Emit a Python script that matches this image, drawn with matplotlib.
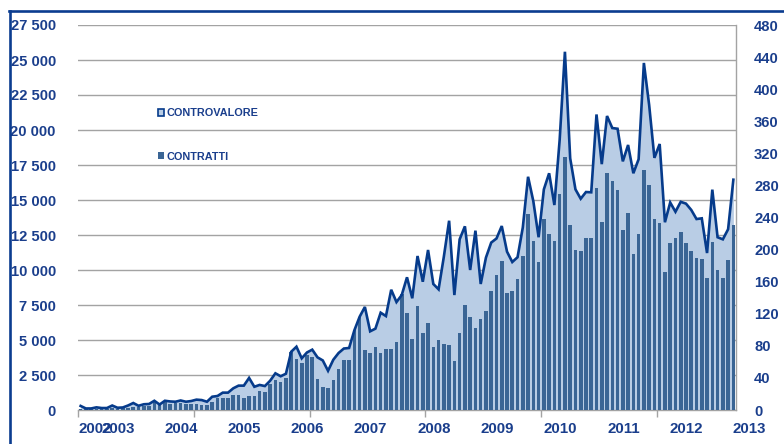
import matplotlib
matplotlib.use('Agg')
import matplotlib.pyplot as plt
import matplotlib.transforms as mtransforms
from matplotlib.patches import Patch
from matplotlib.lines import Line2D
import numpy as np

plt.rcParams['font.family'] = ['Liberation Sans', 'DejaVu Sans']

# ---------------- data (monthly, June 2002 - October 2012) ----------------
start_year, start_month = 2002, 6

controvalore = [290, 110, 110, 190, 140, 140, 320, 160, 180, 320,
                500, 300, 410, 430, 660, 390, 660, 610, 590, 680,
                590, 640, 740, 710, 590, 950, 1000, 1240, 1240, 1550,
                1740, 1740, 2290, 1660, 1790, 1710, 2090, 2620, 2410, 2590,
                4160, 4520, 3690, 4110, 4310, 3760, 3540, 2800, 3590, 4070,
                4390, 4430, 5690, 6660, 7360, 5620, 5810, 6950, 6710, 8590,
                7710, 8210, 9480, 7980, 11000, 9160, 11430, 9000, 8620, 10950,
                13520, 8210, 12190, 13120, 10000, 12810, 9000, 10890, 11960, 12250,
                13140, 11310, 10570, 10910, 13040, 16660, 14910, 12340, 15760, 16910,
                14640, 19290, 25590, 17980, 15760, 15090, 15570, 15550, 21110, 17560,
                21000, 20140, 20090, 17760, 18930, 16910, 17910, 24790, 21790, 18010,
                19000, 13410, 14820, 14160, 14870, 14740, 14290, 13640, 13690, 11210,
                15740, 12340, 12190, 12910, 16450]

contratti = [1, 1, 1, 1, 1, 1, 2, 1, 2, 3,
             4, 4, 5, 5, 11, 6, 10, 8, 9, 9,
             8, 8, 7, 6, 6, 10, 15, 15, 15, 19,
             19, 15, 17, 17, 24, 22, 32, 37, 35, 40,
             72, 64, 59, 68, 66, 39, 29, 27, 37, 51,
             62, 62, 100, 116, 75, 71, 78, 71, 76, 76,
             85, 145, 121, 89, 130, 96, 109, 79, 87, 82,
             81, 61, 96, 131, 116, 102, 114, 123, 148, 168,
             186, 146, 148, 163, 192, 244, 211, 184, 238, 220,
             211, 269, 316, 231, 200, 198, 215, 215, 277, 235,
             296, 286, 274, 225, 246, 194, 220, 299, 280, 238,
             233, 172, 208, 214, 222, 208, 198, 189, 188, 165,
             209, 175, 165, 187, 231]

years = [2002, 2003, 2004, 2005, 2006, 2007, 2008, 2009, 2010, 2011, 2012, 2013]
left_ticks = [0, 2500, 5000, 7500, 10000, 12500, 15000, 17500, 20000, 22500, 25000, 27500]
right_ticks = [0, 40, 80, 120, 160, 200, 240, 280, 320, 360, 400, 440, 480]
legend_labels = ['CONTROVALORE', 'CONTRATTI']

# ---------------- styles ----------------
AREA = '#B9CDE5'
BAR = '#3A6595'
LINE = '#063B8B'
GRID = '#A3A3A3'
TEXT = '#1A3E8C'
FRAME = '#0B3C8F'

W, H = 784, 444
fig = plt.figure(figsize=(W / 100, H / 100), dpi=100)
ax = fig.add_axes([78 / W, 34 / H, 658 / W, 385 / H])

n = len(controvalore)
x = np.arange(n)

ax.fill_between(x, controvalore, 0, color=AREA, lw=0, zorder=1)
ax.set_xlim(-0.5, n - 0.5)
ax.set_ylim(0, 27500)
ax.set_yticks(left_ticks)
ax.set_yticklabels([f"{v:,}".replace(',', ' ') for v in left_ticks])
ax.tick_params(axis='y', length=0, pad=16, labelsize=10.6, labelcolor=TEXT)
for t in ax.get_yticklabels():
    t.set_fontweight('bold')
ax.yaxis.grid(True, color=GRID, lw=1)
ax.set_axisbelow(True)
ax.set_xticks(np.arange(-0.5, n, 22))
ax.tick_params(axis='x', length=5, width=1, color=GRID, labelbottom=False)
for s in ['left', 'top', 'right']:
    ax.spines[s].set_visible(False)
ax.spines['bottom'].set_color(GRID)
ax.spines['bottom'].set_linewidth(1)

ax2 = ax.twinx()
ax2.bar(x, contratti, width=0.68, color=BAR, lw=0, zorder=2)
ax2.set_ylim(0, 480)
ax2.set_yticks(right_ticks)
ax2.tick_params(axis='y', length=0, pad=13, labelsize=10.6, labelcolor=TEXT)
for t in ax2.get_yticklabels():
    t.set_fontweight('bold')
for s in ['left', 'top', 'bottom']:
    ax2.spines[s].set_visible(False)
ax2.spines['right'].set_color(GRID)
ax2.spines['right'].set_linewidth(1)
ax2.patch.set_visible(False)

ax3 = ax.twinx()
ax3.plot(x, controvalore, color=LINE, lw=1.9, solid_joinstyle='miter')
ax3.set_ylim(0, 27500)
ax3.set_xlim(-0.5, n - 0.5)
ax3.set_yticks([])
for s in ax3.spines.values():
    s.set_visible(False)
ax3.patch.set_visible(False)

# year labels at January positions
trans = mtransforms.blended_transform_factory(ax.transData, ax.transAxes)
for yr in years:
    pos = (yr - start_year) * 12 + (1 - start_month) + 0.1
    if pos < 0:
        pos = 2.7
    ax.text(pos, -0.049, str(yr), transform=trans, ha='center', va='center',
            fontsize=10.8, fontweight='bold', color=TEXT)

# legend
handles = [Patch(facecolor=AREA, edgecolor=LINE, lw=1.2), Patch(facecolor=BAR, edgecolor='none')]
leg = ax3.legend(handles, legend_labels, loc='upper left', bbox_to_anchor=(0.121, 0.784),
                 frameon=False, handlelength=0.6, handleheight=0.6, handletextpad=0.2,
                 labelspacing=3.1, borderpad=0, borderaxespad=0,
                 prop={'size': 7.8, 'weight': 'bold'})
for t in leg.get_texts():
    t.set_color(TEXT)

# frame lines (left and top border)
fig.add_artist(Line2D([9.5 / W, 9.5 / W], [0, 1 - 11.2 / H], color=FRAME, lw=1.9))
fig.add_artist(Line2D([8.5 / W, 1], [1 - 11.2 / H, 1 - 11.2 / H], color=FRAME, lw=1.9))

fig.savefig('out.png', dpi=100)
